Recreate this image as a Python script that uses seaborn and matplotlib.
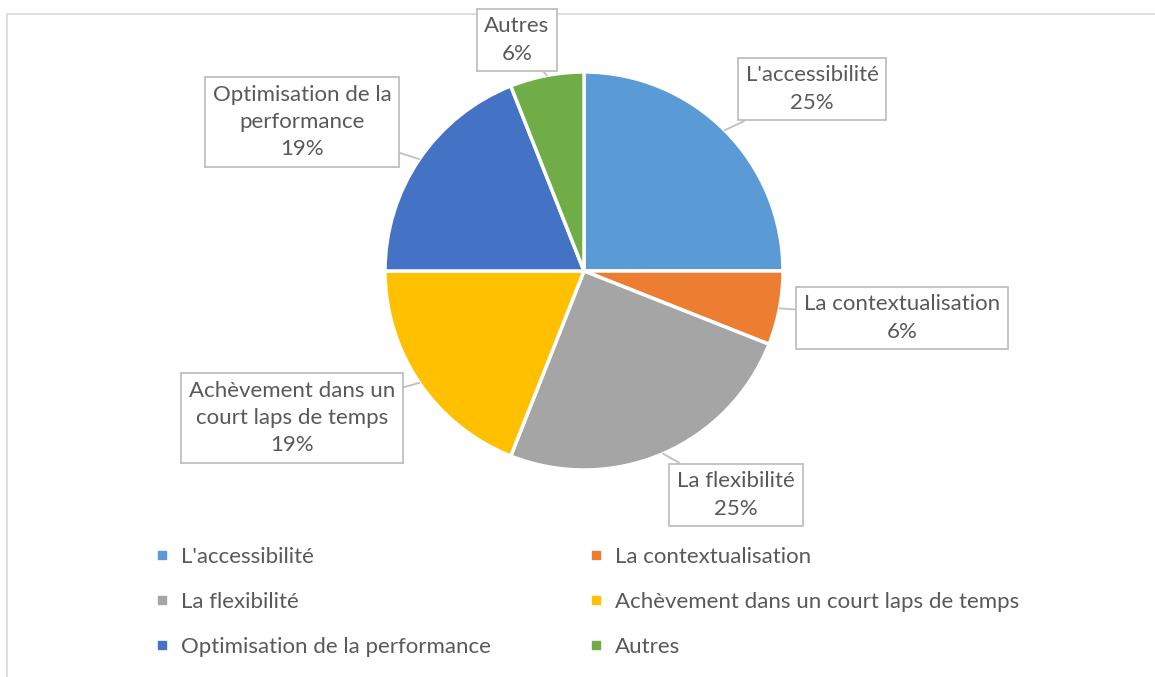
import numpy as np
import seaborn as sns
import matplotlib.pyplot as plt
from matplotlib.lines import Line2D
from matplotlib.patches import Rectangle

# data
categories = ["L'accessibilité", "La contextualisation", "La flexibilité",
              "Achèvement dans un court laps de temps",
              "Optimisation de la performance", "Autres"]
label_text = ["L'accessibilité", "La contextualisation", "La flexibilité",
              "Achèvement dans un\ncourt laps de temps",
              "Optimisation de la\nperformance", "Autres"]
shares = [25, 6, 25, 19, 19, 6]
colors = sns.color_palette(["#5B9BD5", "#ED7D31", "#A5A5A5",
                            "#FFC000", "#4472C4", "#70AD47"])

sns.set_theme(style="white")
plt.rcParams["font.family"] = ["Lato", "DejaVu Sans"]
txt_color = "#595959"
fs = 16

W, H = 1155, 677
fig = plt.figure(figsize=(W / 100, H / 100), dpi=100)
ax = fig.add_axes([0, 0, 1, 1])

# chart area border (light gray, runs off right/bottom)
ax.add_patch(Rectangle((7, -10), W, H - 4, fill=False,
                       edgecolor="#D9D9D9", linewidth=1.2))

cx, cy, r = 584, H - 271, 199
wedges, _ = ax.pie(shares, colors=colors, startangle=90, counterclock=False,
                   center=(cx, cy), radius=r, frame=True,
                   wedgeprops=dict(edgecolor="white", linewidth=2.5))
ax.set_xlim(0, W)
ax.set_ylim(0, H)
ax.axis("off")

# data label boxes (box centres in pixel layout)
box_pos = [(812, 89), (902, 318), (736, 495), (292, 418), (302, 122), (517, 40)]
total = sum(shares)
start = 0.0
for i, s in enumerate(shares):
    mid = np.deg2rad((start + s / 2) / total * 360)
    start += s
    px = cx + r * np.sin(mid)
    py = cy + r * np.cos(mid)
    bx, by = box_pos[i]
    ax.annotate(f"{label_text[i]}\n{s}%", xy=(px, py), xytext=(bx, H - by),
                ha="center", va="center", fontsize=fs, color=txt_color,
                linespacing=1.45,
                bbox=dict(boxstyle="square,pad=0.35", facecolor="white",
                          edgecolor="#BFBFBF", linewidth=1.3),
                arrowprops=dict(arrowstyle="-", color="#BFBFBF", lw=1.3,
                                shrinkA=0, shrinkB=0))

# legend, two columns filled row-wise
order = [0, 2, 4, 1, 3, 5]
handles = [Line2D([], [], marker="s", linestyle="none", markersize=6,
                  markerfacecolor=colors[i], markeredgecolor=colors[i])
           for i in order]
leg = ax.legend(handles, [categories[i] for i in order], ncol=2,
                loc="upper left", bbox_to_anchor=(153 / W, 1 - 547 / H),
                frameon=False, fontsize=fs, labelcolor=txt_color,
                borderpad=0, borderaxespad=0,
                handlelength=0.8, handletextpad=0.48, columnspacing=4.3,
                labelspacing=1.12)

fig.savefig("out.png", dpi=100, facecolor="white")
